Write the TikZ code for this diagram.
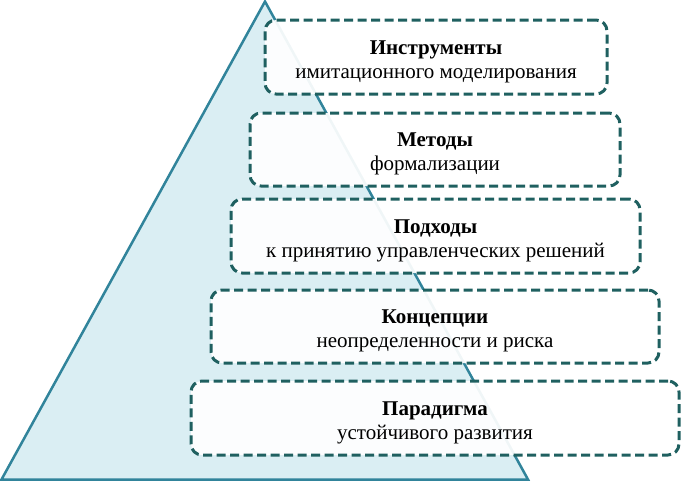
\documentclass[tikz,border=0pt]{standalone}
\usepackage{fontspec}
\setmainfont{Liberation Serif}
\definecolor{trifill}{HTML}{DAEEF3}
\definecolor{triline}{HTML}{31849B}
\definecolor{dashc}{HTML}{1F6060}
\newcommand{\toppad}{\rule{0pt}{23pt}}
\tikzset{
  lvl/.style={draw=dashc, line width=3pt, dash pattern=on 9pt off 4.5pt,
    rounded corners=11pt, fill=white, fill opacity=0.93, text opacity=1,
    align=center, font=\fontsize{21}{24}\selectfont, inner sep=0pt},
}
\begin{document}
\begin{tikzpicture}[x=1pt,y=-1pt]
\useasboundingbox (0,0) rectangle (682,482);
\path[fill=trifill, draw=triline, line width=2.5pt, line join=miter]
  (265,1.5) coordinate (apex) -- (1.5,479.5) coordinate (bl) -- (528,479.5) coordinate (br) -- cycle;
\node[lvl, minimum width=342pt, minimum height=74pt] (b1) at (436,57)
  {\toppad\textbf{Инструменты}\\имитационного моделирования};
\node[lvl, minimum width=370pt, minimum height=73pt] (b2) at (435,149.5)
  {\toppad\textbf{Методы}\\формализации};
\node[lvl, minimum width=409pt, minimum height=74pt] (b3) at (435.5,236)
  {\toppad\textbf{Подходы}\\к принятию управленческих решений};
\node[lvl, minimum width=448pt, minimum height=73pt] (b4) at (435,326.5)
  {\toppad\textbf{Концепции}\\неопределенности и риска};
\node[lvl, minimum width=488pt, minimum height=74pt] (b5) at (435,418)
  {\toppad\textbf{Парадигма}\\устойчивого развития};
\end{tikzpicture}
\end{document}
